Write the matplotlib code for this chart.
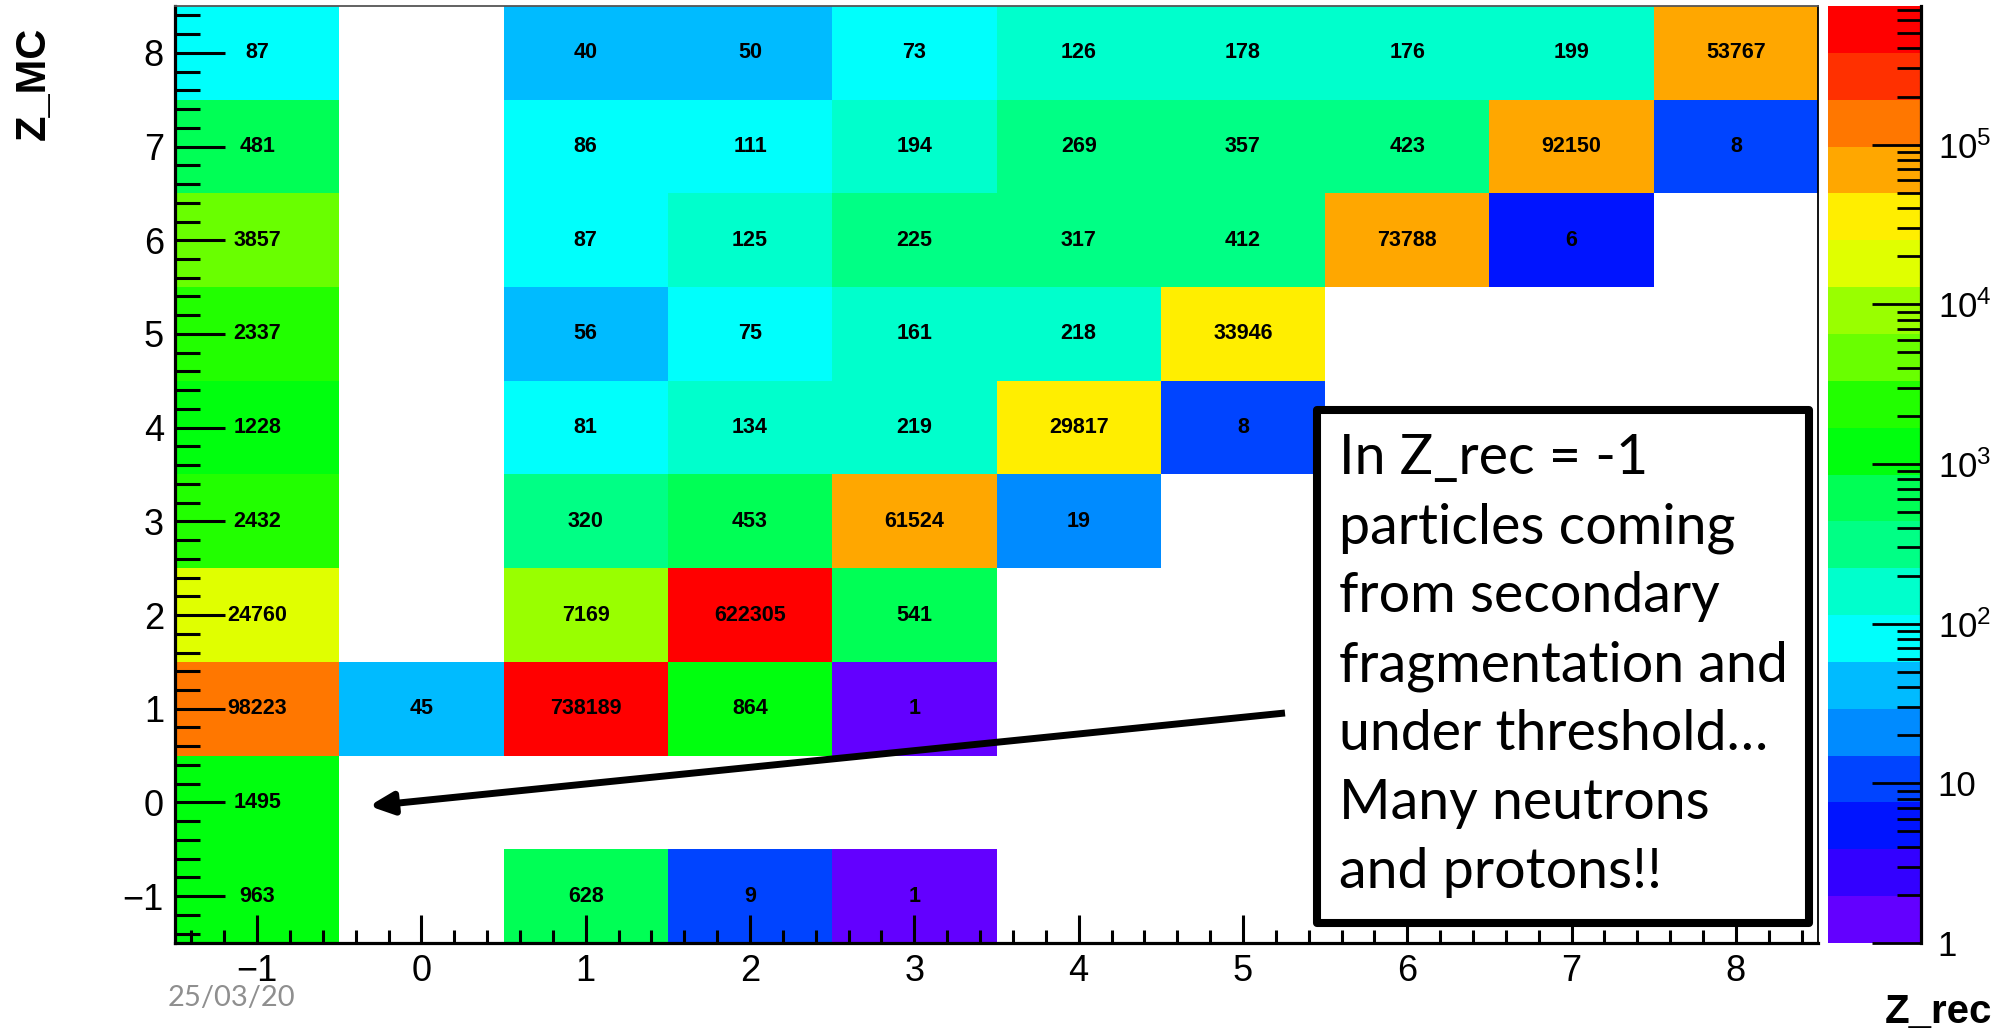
import colorsys
import numpy as np
import matplotlib
matplotlib.use('Agg')
import matplotlib.pyplot as plt
from matplotlib.colors import ListedColormap, LogNorm
from matplotlib.patches import Rectangle, FancyArrowPatch
from matplotlib.ticker import LogLocator, NullFormatter, MultipleLocator, AutoMinorLocator

plt.rcParams['font.family'] = ['Liberation Sans', 'DejaVu Sans']
plt.rcParams['mathtext.fontset'] = 'custom'
plt.rcParams['mathtext.rm'] = 'Liberation Sans'
plt.rcParams['mathtext.it'] = 'Liberation Sans'

# reconstructed charge vs MC charge
z_rec = np.arange(-1, 9)
z_mc = np.arange(-1, 9)
nan = np.nan
row_mc_m1 = [963, nan, 628, 9, 1, nan, nan, nan, nan, nan]
row_mc_0 = [1495, nan, nan, nan, nan, nan, nan, nan, nan, nan]
row_mc_1 = [98223, 45, 738189, 864, 1, nan, nan, nan, nan, nan]
row_mc_2 = [24760, nan, 7169, 622305, 541, nan, nan, nan, nan, nan]
row_mc_3 = [2432, nan, 320, 453, 61524, 19, nan, nan, nan, nan]
row_mc_4 = [1228, nan, 81, 134, 219, 29817, 8, nan, nan, nan]
row_mc_5 = [2337, nan, 56, 75, 161, 218, 33946, nan, nan, nan]
row_mc_6 = [3857, nan, 87, 125, 225, 317, 412, 73788, 6, nan]
row_mc_7 = [481, nan, 86, 111, 194, 269, 357, 423, 92150, 8]
row_mc_8 = [87, nan, 40, 50, 73, 126, 178, 176, 199, 53767]
counts = np.array([row_mc_m1, row_mc_0, row_mc_1, row_mc_2, row_mc_3,
                   row_mc_4, row_mc_5, row_mc_6, row_mc_7, row_mc_8])

cbar_ticks = [1, 10, 100, 1e3, 1e4, 1e5]
cbar_labels = ['1', '10', r'$10^{2}$', r'$10^{3}$', r'$10^{4}$', r'$10^{5}$']

note_lines = ['In Z_rec = -1', 'particles coming', 'from secondary',
              'fragmentation and', 'under threshold\u2026', 'Many neutrons',
              'and protons!!']
date_str = '25/03/20'

# ROOT "pretty" palette (hue scan violet->red), 20 contour levels
n_levels = 20
n_pretty = 50
pal = []
for k in range(n_levels):
    i = int((k + 0.99) * n_pretty / n_levels)
    hue = 280.0 - (i + 1) * (280.0 / n_pretty)
    pal.append(colorsys.hls_to_rgb(hue / 360.0, 0.5, 1.0))
cmap = ListedColormap(pal)
norm = LogNorm(vmin=1, vmax=np.nanmax(counts))

W, H = 1998, 1032
fig = plt.figure(figsize=(W / 100, H / 100), dpi=100)


def fx(x):
    return x / W


def fy(y):
    return 1 - y / H


ax = fig.add_axes([fx(175), fy(943), fx(1818) - fx(175), fy(6) - fy(943)])
cax = fig.add_axes([fx(1828), fy(943), fx(1921) - fx(1828), fy(6) - fy(943)])

xe = np.append(z_rec - 0.5, z_rec[-1] + 0.5)
ye = np.append(z_mc - 0.5, z_mc[-1] + 0.5)
mesh = ax.pcolormesh(xe, ye, np.ma.masked_invalid(counts), cmap=cmap, norm=norm)

for iy, yv in enumerate(z_mc):
    for ix, xv in enumerate(z_rec):
        v = counts[iy, ix]
        if not np.isnan(v):
            ax.text(xv, yv, '%d' % v, ha='center', va='center',
                    fontsize=15.5, fontweight='bold', color='black')

ax.set_xlim(xe[0], xe[-1])
ax.set_ylim(ye[0], ye[-1])
ax.xaxis.set_major_locator(MultipleLocator(1))
ax.yaxis.set_major_locator(MultipleLocator(1))
ax.xaxis.set_minor_locator(AutoMinorLocator(5))
ax.yaxis.set_minor_locator(AutoMinorLocator(5))
ax.tick_params(axis='both', which='both', direction='in', width=2.2,
               labelsize=26, top=False, right=False)
ax.tick_params(axis='x', which='major', length=20, pad=8)
ax.tick_params(axis='x', which='minor', length=9.5)
ax.tick_params(axis='y', which='major', length=36, pad=8)
ax.tick_params(axis='y', which='minor', length=18)
for s in ['left', 'bottom']:
    ax.spines[s].set_linewidth(2.3)
for s in ['top', 'right']:
    ax.spines[s].set_linewidth(1.3)
ax.spines['top'].set_color('#555555')

cbar = fig.colorbar(mesh, cax=cax)
cbar.outline.set_visible(False)
cax.plot([1, 1], [0, 1], transform=cax.transAxes, color='black', lw=2.3,
         clip_on=False)
cbar.set_ticks(cbar_ticks)
cbar.set_ticklabels(cbar_labels)
cax.yaxis.set_minor_locator(LogLocator(base=10, subs=np.arange(2, 10)))
cax.yaxis.set_minor_formatter(NullFormatter())
cax.tick_params(which='both', direction='in', width=2, labelsize=25,
                right=True, left=False)
cax.tick_params(which='major', length=35, pad=12)
cax.tick_params(which='minor', length=17)

fig.text(fx(34), fy(83), 'Z_MC', rotation=90, ha='center', va='center',
         fontsize=30, fontweight='bold')
fig.text(fx(1938), fy(1023), 'Z_rec', ha='center', va='baseline',
         fontsize=29, fontweight='bold')
fig.text(fx(231), fy(998), date_str, ha='center', va='center', fontsize=21,
         color='#8f8f8f', family='Lato')

arrow = FancyArrowPatch((fx(1285), fy(713)), (fx(369), fy(806)),
                        transform=fig.transFigure,
                        arrowstyle='-|>,head_length=14,head_width=6.5',
                        mutation_scale=1, lw=5, color='black',
                        shrinkA=0, shrinkB=0, capstyle='butt')
fig.add_artist(arrow)

box = Rectangle((fx(1317), fy(923)), fx(1809) - fx(1317), fy(410) - fy(923),
                transform=fig.transFigure, facecolor='white',
                edgecolor='black', lw=5.8, joinstyle='round')
fig.add_artist(box)
for k, line in enumerate(note_lines):
    fig.text(fx(1339), fy(474 + 69 * k), line, ha='left', va='baseline',
             fontsize=40, family='Lato', color='black')

fig.savefig('out.png', dpi=100)
